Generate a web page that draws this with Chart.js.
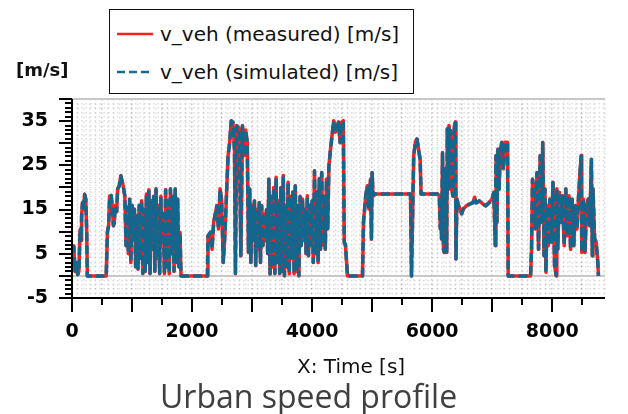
<!DOCTYPE html>
<html>
<head>
<meta charset="utf-8">
<script src="https://cdn.jsdelivr.net/npm/chart.js@4.4.1/dist/chart.umd.min.js"></script>
<style>
  body { margin: 0; background: #fff; }
  #wrap { position: relative; width: 628px; height: 414px; overflow: hidden; }
  #chart { position: absolute; left: 0; top: 0; }
  .txt { position: absolute; white-space: nowrap; font-family: "DejaVu Sans", sans-serif; color: #111; }
  #legend { position: absolute; left: 109px; top: 9px; width: 305px; height: 85px; border: 1.5px solid #111; box-sizing: border-box; background: #fff; }
  .leg-row { position: absolute; left: 0; height: 24px; line-height: 24px; font-size: 20px; }
  .leg-row svg { position: absolute; left: 7px; top: 10px; }
  .leg-row span { position: absolute; left: 50px; }
</style>
</head>
<body>
<div id="wrap">
  <canvas id="chart" width="628" height="414"></canvas>
  <div id="legend">
    <div class="leg-row txt" style="top:12px;">
      <svg width="38" height="4"><line x1="0" y1="2" x2="36" y2="2" stroke="#ff1f1f" stroke-width="2.5"/></svg>
      <span>v_veh (measured) [m/s]</span>
    </div>
    <div class="leg-row txt" style="top:50px;">
      <svg width="38" height="4"><line x1="0" y1="2" x2="36" y2="2" stroke="#1a6b8f" stroke-width="2.5" stroke-dasharray="8,4"/></svg>
      <span>v_veh (simulated) [m/s]</span>
    </div>
  </div>
  <div class="txt" style="left:16px; top:58px; font-size:18px; font-weight:bold; line-height:24px;">[m/s]</div>
  <div class="txt" style="left:297px; top:354px; font-size:20px; line-height:24px;">X: Time [s]</div>
  <div class="txt" style="left:160px; top:376px; font-family:'Open Sans', sans-serif; font-size:32px; line-height:40px; color:#404040;">Urban speed profile</div>
</div>
<script>
// time axis [s]
const timeS = [
  0, 30, 50, 70, 95, 115, 135, 150, 160, 175, 190, 210, 230, 245, 255, 570,
  590, 610, 627, 653, 668, 690, 705, 720, 745, 760, 787, 813, 840, 860,
  880, 900, 920, 940, 960, 980, 1000, 1020, 1040, 1060, 1080, 1100, 1120, 1140, 1160, 1180,
  1200, 1220, 1240, 1260, 1280, 1300, 1320, 1340, 1360, 1380, 1400, 1420, 1440, 1460, 1480, 1500,
  1520, 1540, 1560, 1580, 1600, 1620, 1640, 1660, 1680, 1700, 1720, 1740, 1760, 1780, 1800, 1816, 2253,
  2265, 2307, 2333, 2360, 2413, 2440, 2467, 2493, 2520, 2550, 2573, 2600, 2627, 2653, 2680, 2707,
  2723, 2744, 2787, 2813, 2840, 2867, 2893, 2920, 2940,
  2960, 2980, 3000, 3020, 3040, 3060, 3080, 3100, 3120, 3140, 3160, 3180, 3200, 3220, 3240, 3260,
  3280, 3300, 3320, 3340, 3360, 3380, 3400, 3420, 3440, 3460, 3480, 3500, 3520, 3540, 3560, 3580,
  3600, 3620, 3640, 3660, 3680, 3700, 3720, 3740, 3760, 3780, 3800, 3820, 3840, 3860, 3880, 3900,
  3920, 3940, 3960, 3980, 4000, 4020, 4040, 4060, 4080, 4100, 4120, 4140, 4160, 4180, 4200, 4220,
  4240, 4260, 4280, 4307, 4360, 4387, 4440, 4467, 4493, 4520, 4536, 4557, 4589, 4840,
  4856, 4893, 4920, 4947, 4973, 4989, 5000, 5016, 5030, 5640, 5656, 5693, 5720, 5747, 5773, 5800, 5816, 6093,
  6120, 6136, 6147, 6157, 6173, 6189, 6200, 6211, 6227, 6243, 6253, 6269, 6280, 6296, 6307, 6323,
  6349, 6371, 6387, 6397, 6413, 6440, 6467, 6493, 6520, 6573, 6627, 6680, 6707, 6733, 6787, 6840,
  6893, 6947, 7000, 7027, 7053, 7064, 7080, 7096, 7117, 7133, 7160, 7187, 7213, 7256, 7267, 7640,
  7656, 7672, 7693, 7720, 7747, 7773, 7800, 7827, 7843, 7864, 7880, 7896, 7917, 7933, 7960, 7987,
  8013, 8040, 8067, 8077, 8093, 8120, 8147, 8173, 8200, 8227, 8253, 8280, 8307, 8333, 8360, 8387,
  8413, 8440, 8467, 8483, 8493, 8520, 8547, 8573, 8600, 8627, 8653, 8669, 8680, 8707, 8733, 8760, 8771
];

// v_veh measured [m/s]
const vMeasured = [
  6.5, 6.8, 1, 3, 0.3, 1, 10.5, 8, 13.6, 16.6, 15, 18.5, 17.4, 10, 0, 0,
  10, 11.3, 18, 18.1, 15.9, 11.3, 12, 15.9, 14.5, 19.7, 20.4, 22.7, 21.2, 19.7,
  18, 6.8, 15.5, 5, 17.4, 3, 16, 8, 15, 2, 13.6, 1.5, 16, 4, 17, 0.5,
  15, 1, 18.5, 3, 19.5, 0.5, 17, 6, 18, 1, 19.7, 4, 16, 0.5, 18, 8,
  14, 0.5, 19.5, 2, 17, 0.5, 19.7, 5, 18, 1, 19.7, 3, 17.4, 2, 9.8, 0, 0,
  9.1, 9.8, 6, 12.1, 15.9, 10.6, 19.7, 17, 3, 10, 18.1, 27.2, 30.2, 35.1, 34.8, 28.7,
  0.5, 34, 33.3, 4.5, 34, 27.2, 33, 30.2, 5.3,
  19.7, 3, 16, 8, 17, 2.3, 15, 6, 16.6, 3, 15.9, 6.8, 14, 8, 15, 5,
  21.9, 0.4, 18, 2, 20, 0.5, 22.3, 3, 17, 0.5, 20, 1, 22.7, 0, 16, 2,
  21.2, 0.5, 18, 4, 19, 0.5, 20.4, 1, 16, 0, 18, 6.8, 17.4, 8, 15, 5,
  18.1, 4.5, 16, 7, 17, 3, 23.8, 5, 19, 3, 22, 6, 23.4, 7, 18, 6,
  21.9, 10.6, 24.9, 28.7, 35.1, 32.5, 34.8, 30.2, 34.8, 35.1, 7.6, 6.8, 0, 0,
  12.1, 18.1, 20.4, 15.1, 21.9, 8.3, 23.4, 18.1, 18.5, 18.5, 0, 27.2, 30.2, 31, 28.7, 26.4, 18.5, 18.5,
  18.1, 10.6, 16.6, 8.3, 27.9, 6, 5.3, 24.2, 19.7, 5.3, 33.3, 19.7, 34, 22.7, 32.9, 19.7,
  18.1, 34, 34.8, 3.8, 17.4, 15.9, 15.1, 14, 15.1, 15.9, 16.3, 16.6, 17.8, 16.6, 17, 16.3,
  15.9, 16.6, 17.4, 18.9, 6.8, 27.2, 12.1, 28.7, 19.7, 27.9, 30.2, 24.2, 30.2, 30.2, 0, 0,
  6, 21.9, 19.7, 10.6, 23.4, 6, 27.2, 12.1, 30.2, 4.5, 19.7, 0.8, 15.9, 6.8, 17.4, 7.6,
  21.2, 2.3, 0, 19.7, 6, 18.9, 12.1, 18.1, 6.8, 19.7, 9.1, 18.1, 6, 17.4, 6.8, 15.9,
  10.6, 18.1, 24.2, 27.2, 5.3, 17.4, 5.3, 15.9, 17.4, 11.3, 26.4, 4.5, 19.7, 8.3, 7.6, 3, 0
];

// v_veh simulated [m/s]
const vSimulated = [
  6.4, 6.7, 1.2, 2.9, 0.3, 1.1, 10.3, 8.2, 13.4, 16.5, 15.1, 18.4, 17.3, 10.2, 0, 0,
  9.8, 11.4, 17.8, 18.2, 15.8, 11.4, 12.1, 15.8, 14.6, 19.6, 20.3, 22.6, 21.1, 19.8,
  18.1, 6.9, 15.4, 5.1, 17.3, 3.1, 15.9, 8.1, 15.1, 2.1, 13.5, 1.6, 15.9, 4.1, 16.9, 0.6,
  15.1, 1.1, 18.4, 3.1, 19.4, 0.6, 17.1, 6.1, 17.9, 1.1, 19.6, 4.1, 16.1, 0.6, 17.9, 8.1,
  14.1, 0.6, 19.4, 2.1, 16.9, 0.6, 19.6, 5.1, 17.9, 1.1, 19.6, 3.1, 17.3, 2.1, 9.7, 0, 0,
  9.0, 9.9, 6.1, 12.0, 15.8, 10.7, 19.6, 17.1, 3.1, 10.1, 18.0, 27.0, 30.1, 35.0, 34.7, 28.6,
  0.6, 33.9, 33.2, 4.6, 33.9, 27.1, 32.9, 30.1, 5.4,
  19.6, 3.1, 15.9, 8.1, 16.9, 2.4, 15.1, 6.1, 16.5, 3.1, 15.8, 6.9, 14.1, 8.1, 14.9, 5.1,
  21.8, 0.5, 17.9, 2.1, 19.9, 0.6, 22.2, 3.1, 16.9, 0.6, 19.9, 1.1, 22.6, 0.1, 15.9, 2.1,
  21.1, 0.6, 17.9, 4.1, 18.9, 0.6, 20.3, 1.1, 15.9, 0.1, 17.9, 6.9, 17.3, 8.1, 14.9, 5.1,
  18.0, 4.6, 15.9, 7.1, 16.9, 3.1, 23.7, 5.1, 18.9, 3.1, 21.9, 6.1, 23.3, 7.1, 17.9, 6.1,
  21.8, 10.7, 24.8, 28.6, 35.0, 32.4, 34.7, 30.1, 34.7, 35.0, 7.7, 6.9, 0, 0,
  12.0, 18.0, 20.3, 15.2, 21.8, 8.4, 23.3, 18.2, 18.5, 18.5, 0, 27.1, 30.1, 30.9, 28.6, 26.3, 18.5, 18.5,
  18.0, 10.7, 16.5, 8.4, 27.8, 6.1, 5.4, 24.1, 19.6, 5.4, 33.2, 19.6, 33.9, 22.6, 32.8, 19.6,
  18.0, 33.9, 34.7, 3.9, 17.3, 15.8, 15.2, 14.1, 15.2, 15.8, 16.2, 16.5, 17.7, 16.5, 16.9, 16.2,
  15.8, 16.5, 17.3, 18.8, 6.9, 27.1, 12.2, 28.6, 19.6, 27.8, 30.1, 24.1, 30.1, 30.1, 0, 0,
  6.1, 21.8, 19.6, 10.7, 23.3, 6.1, 27.1, 12.2, 30.1, 4.6, 19.6, 0.9, 15.8, 6.9, 17.3, 7.7,
  21.1, 2.4, 0.1, 19.6, 6.1, 18.8, 12.2, 18.0, 6.9, 19.6, 9.2, 18.0, 6.1, 17.3, 6.9, 15.8,
  10.7, 18.0, 24.1, 27.1, 5.4, 17.3, 5.4, 15.8, 17.3, 11.4, 26.3, 4.6, 19.6, 8.4, 7.7, 3.1, 0
];

// labelled ticks
const xTickLabels = [0, 2000, 4000, 6000, 8000];
const yTickLabels = [-5, 5, 15, 25, 35];

const tickFont = { family: 'DejaVu Sans', size: 19, weight: 'bold' };

// axis lines, tick marks and the solid zero/top lines
const axisDecor = {
  id: 'axisDecor',
  beforeDatasetsDraw(chart) {
    const { ctx, chartArea, scales: { y } } = chart;
    ctx.save();
    ctx.setLineDash([]);
    ctx.strokeStyle = '#c8c8c8';
    ctx.lineWidth = 2;
    [0, y.max].forEach(v => {
      const py = Math.round(y.getPixelForValue(v));
      ctx.beginPath();
      ctx.moveTo(chartArea.left, py);
      ctx.lineTo(chartArea.right, py);
      ctx.stroke();
    });
    ctx.restore();
  },
  afterDraw(chart) {
    const { ctx, chartArea, scales: { x, y } } = chart;
    const left = Math.round(chartArea.left);
    const bottom = Math.round(chartArea.bottom);
    ctx.save();
    ctx.setLineDash([]);
    ctx.strokeStyle = '#000';
    ctx.lineWidth = 2;
    // axis lines
    ctx.beginPath();
    ctx.moveTo(left, chartArea.top);
    ctx.lineTo(left, bottom + 1);
    ctx.moveTo(left - 1, bottom);
    ctx.lineTo(chartArea.right, bottom);
    ctx.stroke();
    x.ticks.forEach(t => {
      if (t.value % 500 !== 0) return;
      const px = Math.round(x.getPixelForValue(t.value));
      const len = t.value % 1000 === 0 ? 14 : 7;
      ctx.beginPath();
      ctx.moveTo(px, bottom);
      ctx.lineTo(px, bottom + len);
      ctx.stroke();
    });
    y.ticks.forEach(t => {
      const py = Math.round(y.getPixelForValue(t.value));
      const len = t.value % 5 === 0 ? 13 : 7;
      ctx.beginPath();
      ctx.moveTo(left, py);
      ctx.lineTo(left - len, py);
      ctx.stroke();
    });
    ctx.restore();
  }
};

const chart = new Chart(document.getElementById('chart'), {
  type: 'line',
  data: {
    datasets: [
      {
        label: 'v_veh (simulated) [m/s]',
        data: timeS.map((t, i) => ({ x: t, y: vSimulated[i] })),
        borderColor: '#15668c',
        borderWidth: 3.5,
        borderDash: [9, 4],
        borderJoinStyle: 'round',
        pointRadius: 0,
        tension: 0,
        order: 0
      },
      {
        label: 'v_veh (measured) [m/s]',
        data: timeS.map((t, i) => ({ x: t, y: vMeasured[i] })),
        borderColor: '#ff1f1f',
        borderWidth: 3.5,
        borderJoinStyle: 'round',
        pointRadius: 0,
        tension: 0,
        order: 1
      }
    ]
  },
  options: {
    responsive: false,
    animation: false,
    devicePixelRatio: 1,
    layout: { padding: { top: 99, left: 0, right: 1, bottom: 76 } },
    plugins: { legend: { display: false }, tooltip: { enabled: false } },
    scales: {
      x: {
        type: 'linear',
        min: 0,
        max: 8880,
        ticks: {
          stepSize: 100,
          autoSkip: false,
          maxRotation: 0,
          padding: 23,
          color: '#000',
          font: tickFont,
          callback: v => xTickLabels.includes(v) ? String(v) : ''
        },
        grid: {
          drawTicks: false,
          color: c => (c.tick && c.tick.value % 500 === 0 && c.tick.value > 0) ? 'rgba(0,0,0,0.24)' : 'rgba(0,0,0,0.13)',
          lineWidth: 1.5
        },
        border: { display: false, dash: [1.5, 3] },
        afterFit(s) { s.height = 40; }
      },
      y: {
        min: -5,
        max: 40,
        ticks: {
          stepSize: 1,
          autoSkip: false,
          padding: 24,
          color: '#000',
          font: tickFont,
          callback: v => yTickLabels.includes(v) ? String(v) : ''
        },
        grid: {
          drawTicks: false,
          color: 'rgba(0,0,0,0.13)',
          lineWidth: 1.5
        },
        border: { display: false, dash: [1.5, 3] },
        afterFit(s) { s.width = 72; }
      }
    }
  },
  plugins: [axisDecor]
});
</script>
</body>
</html>
